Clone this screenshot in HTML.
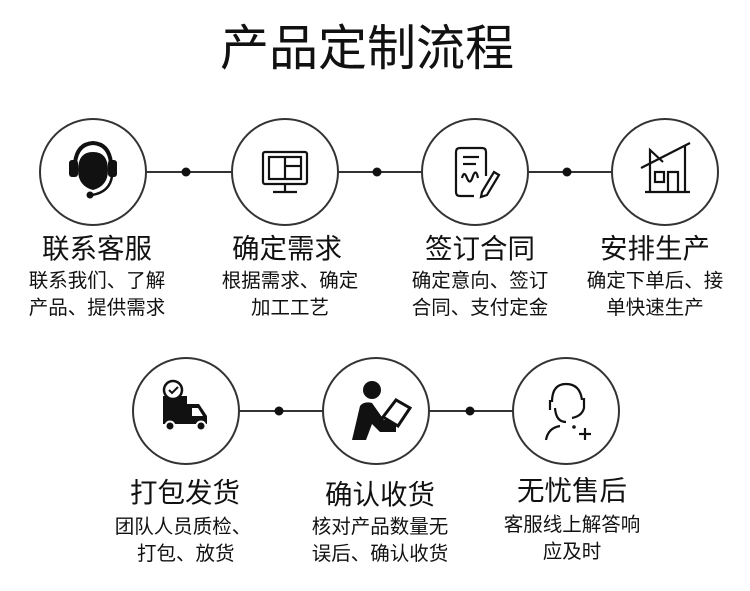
<!DOCTYPE html>
<html><head><meta charset="utf-8"><style>
body{margin:0;width:750px;height:591px;background:#fff;position:relative;overflow:hidden;font-family:"Liberation Sans","Noto Sans CJK SC",sans-serif;color:#111}
.t{position:absolute;white-space:nowrap;transform:translateX(-50%);text-align:center}
.h{font-size:27.5px;line-height:30px}
.s{font-size:19.5px;line-height:27px}
</style></head><body>
<div class="t" style="left:367px;top:20px;font-size:49px;line-height:58px">产品定制流程</div>
<svg width="750" height="591" style="position:absolute;left:0;top:0">
<g stroke="#333" stroke-width="2" fill="none">
<line x1="146" y1="172" x2="232" y2="172"/><line x1="338" y1="172" x2="422" y2="172"/><line x1="528" y1="172" x2="612" y2="172"/>
<line x1="239" y1="411" x2="323" y2="411"/><line x1="429" y1="411" x2="513" y2="411"/>
<circle cx="93" cy="172" r="53"/><circle cx="285" cy="172" r="53"/><circle cx="475" cy="172" r="53"/><circle cx="665" cy="172" r="53"/>
<circle cx="186" cy="411" r="53"/><circle cx="376" cy="411" r="53"/><circle cx="566" cy="411" r="53"/>
</g>
<g fill="#111">
<circle cx="186" cy="172" r="4.5"/><circle cx="377" cy="172" r="4.5"/><circle cx="567" cy="172" r="4.5"/>
<circle cx="279" cy="411" r="4.5"/><circle cx="470" cy="411" r="4.5"/>
</g>
<!-- headset -->
<g>
<path d="M78 170 Q78 152 93 152 Q108 152 108 170 Q108 186 93 190 Q78 186 78 170Z" fill="#111"/>
<path d="M75 163 Q77 144 93 143 Q109 144 111 163" stroke="#111" stroke-width="4" fill="none"/>
<rect x="69" y="160" width="9" height="17" rx="3" fill="#111"/>
<rect x="108" y="160" width="9" height="17" rx="3" fill="#111"/>
<path d="M112 176 Q110 192 92 195" stroke="#111" stroke-width="2.5" fill="none"/>
<circle cx="90" cy="195" r="3.5" fill="#111"/>
</g>
<!-- monitor -->
<g stroke="#111" stroke-width="2.2" fill="none">
<rect x="263" y="152" width="44" height="32" rx="2"/><rect x="269" y="157" width="32" height="22"/>
<line x1="285" y1="157" x2="285" y2="179"/><line x1="285" y1="166" x2="301" y2="166"/>
<line x1="285" y1="184" x2="285" y2="191"/><line x1="273" y1="192" x2="297" y2="192"/>
</g>
<!-- contract -->
<g stroke="#111" stroke-width="2.2" fill="none">
<path d="M486 176 V152 Q486 148 482 148 H460 Q456 148 456 152 V192 Q456 196 460 196 H474"/>
<line x1="463" y1="157" x2="479" y2="157"/><line x1="463" y1="164" x2="476" y2="164"/>
<path d="M462 178 Q464 170 467 178 Q470 186 473 176 Q476 168 478 178"/>
<path d="M482 192 L494 172 L499 175 L487 195 L481 197Z"/>
</g>
<!-- house -->
<g stroke="#111" stroke-width="2.2" fill="none">
<line x1="645" y1="192" x2="690" y2="192"/><line x1="641" y1="168" x2="690" y2="143"/>
<path d="M650 192 V150 L663 162"/><line x1="685" y1="145" x2="685" y2="192"/>
<rect x="655" y="172" width="9" height="10"/><path d="M668 192 V172 H678 V192"/>
</g>
<!-- truck -->
<g fill="#111">
<rect x="163" y="396" width="24" height="28"/><path d="M187 404 H199 L207 416 V424 H187Z"/>
<circle cx="173" cy="390" r="9" fill="#fff" stroke="#111" stroke-width="2.5"/>
<path d="M169 390 L172 393 L178 387" stroke="#111" stroke-width="2" fill="none"/>
<circle cx="170" cy="426" r="4.5" stroke="#fff" stroke-width="2"/><circle cx="201" cy="426" r="4.5" stroke="#fff" stroke-width="2"/>
<path d="M192 408 H198 L203 416 H192Z" fill="#fff"/>
</g>
<!-- person tablet -->
<g fill="#111">
<circle cx="372" cy="390" r="9"/>
<path d="M352 440 L360 406 Q364 401 372 403 L384 420 H396 V432 H380 L372 424 L366 440Z"/>
<path d="M383 417 L396 400 L410 408 L398 426Z" fill="#fff" stroke="#111" stroke-width="3"/>
</g>
<!-- service -->
<g stroke="#111" stroke-width="2.2" fill="none">
<path d="M552 402 Q552 384 566 384 Q580 384 582 400"/>
<path d="M555 408 Q556 422 566 422"/>
<path d="M550 400 V410 M584 398 V408 Q582 416 572 418"/>
<path d="M546 440 Q548 428 560 426"/>
<line x1="585" y1="428" x2="585" y2="440"/><line x1="579" y1="434" x2="591" y2="434"/>
</g>
<circle cx="574" cy="427" r="1.8" fill="#111"/>
</svg>
<div class="t h" style="left:97px;top:234px">联系客服</div>
<div class="t s" style="left:97px;top:268px">联系我们、了解<br>产品、提供需求</div>
<div class="t h" style="left:287px;top:234px">确定需求</div>
<div class="t s" style="left:290px;top:268px">根据需求、确定<br>加工工艺</div>
<div class="t h" style="left:480px;top:234px">签订合同</div>
<div class="t s" style="left:480px;top:268px">确定意向、签订<br>合同、支付定金</div>
<div class="t h" style="left:655px;top:234px">安排生产</div>
<div class="t s" style="left:655px;top:268px">确定下单后、接<br>单快速生产</div>
<div class="t h" style="left:185px;top:478px">打包发货</div>
<div class="t s" style="left:183px;top:514px">团队人员质检、<br>&nbsp;打包、放货</div>
<div class="t h" style="left:380px;top:480px">确认收货</div>
<div class="t s" style="left:380px;top:514px">核对产品数量无<br>误后、确认收货</div>
<div class="t h" style="left:572px;top:476px">无忧售后</div>
<div class="t s" style="left:572px;top:512px">客服线上解答响<br>应及时</div>
</body></html>
